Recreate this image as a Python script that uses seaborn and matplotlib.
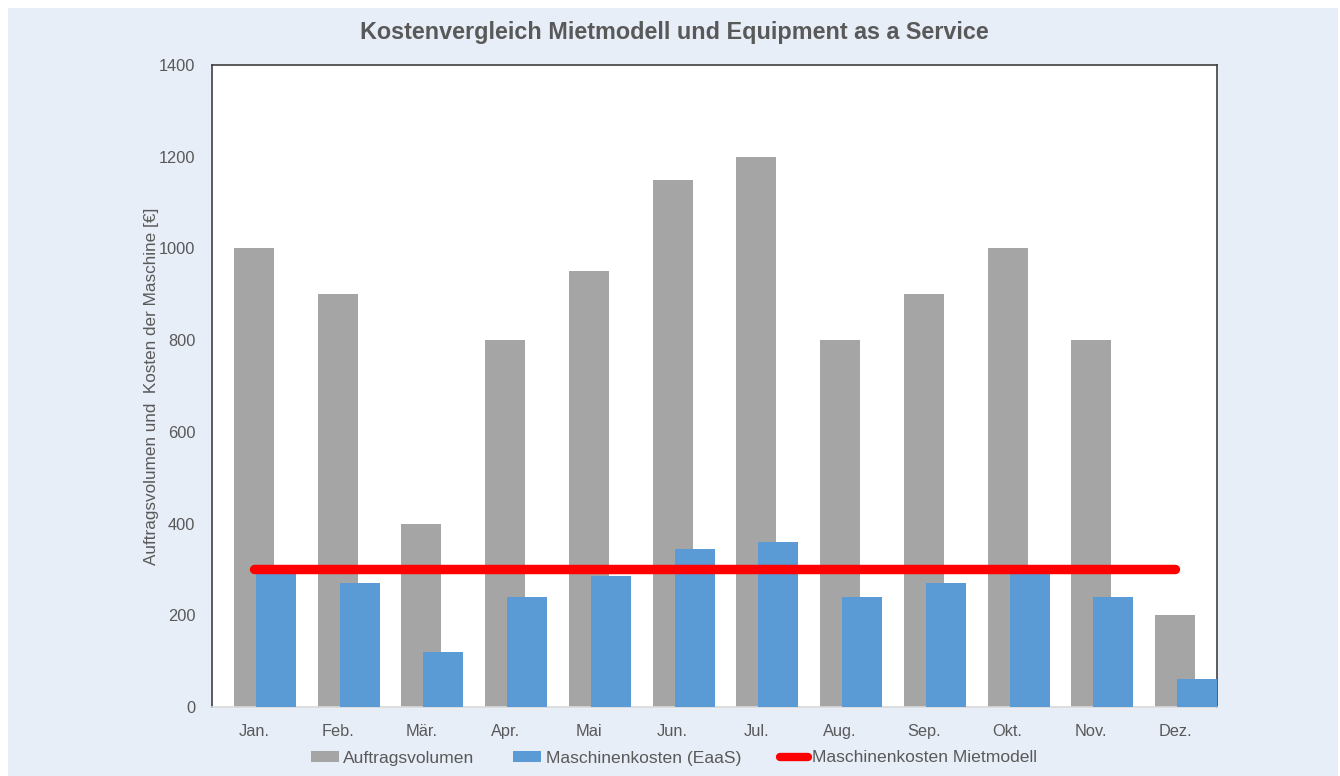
import numpy as np
import pandas as pd
import seaborn as sns
import matplotlib
matplotlib.use('Agg')
import matplotlib.pyplot as plt
from matplotlib.patches import Patch, Rectangle
from matplotlib.lines import Line2D

# data
monate = ["Jan.", "Feb.", "Mär.", "Apr.", "Mai", "Jun.", "Jul.", "Aug.", "Sep.", "Okt.", "Nov.", "Dez."]
auftragsvolumen = [1000, 900, 400, 800, 950, 1150, 1200, 800, 900, 1000, 800, 200]
kosten_eaas = [290, 270, 120, 240, 285, 345, 360, 240, 270, 290, 240, 60]
kosten_miete = [300] * 12

grau = '#a5a5a5'
blau = '#5b9bd5'
rot = '#ff0000'
hellblau = '#e8eef8'
textgrau = '#595959'

sns.set_style('white')
plt.rcParams['font.family'] = ['Liberation Sans', 'DejaVu Sans']

pos = np.arange(len(monate))
df = pd.DataFrame({'pos': pos, 'monat': monate, 'auftrag': auftragsvolumen,
                   'eaas': kosten_eaas, 'miete': kosten_miete})
df['pos_eaas'] = df['pos'] + 0.263

fig = plt.figure(figsize=(13.4, 7.76), dpi=100, facecolor='white')
fig.patches.append(Rectangle((8 / 1340, 0), 1330 / 1340, 1 - 8 / 776, transform=fig.transFigure,
                             facecolor=hellblau, edgecolor='none', zorder=-10))
ax = fig.add_axes([212 / 1340, 1 - 707 / 776, 1005 / 1340, 642 / 776])
ax.set_facecolor('white')

sns.barplot(data=df, x='pos', y='auftrag', native_scale=True, color=grau, width=0.478,
            saturation=1, linewidth=0, ax=ax, zorder=2)
sns.barplot(data=df, x='pos_eaas', y='eaas', native_scale=True, color=blau, width=0.478,
            saturation=1, linewidth=0, ax=ax, zorder=3)
sns.lineplot(data=df, x='pos', y='miete', color=rot, linewidth=6.8, ax=ax, zorder=4,
             solid_capstyle='round')

ax.set_xlim(-0.5, 11.5)
ax.set_ylim(0, 1400)
ax.set_yticks(range(0, 1401, 200))
ax.set_xticks(pos)
ax.set_xticklabels(monate)
ax.tick_params(axis='both', length=0, colors=textgrau, labelsize=11.8)
ax.tick_params(axis='x', pad=12, labelsize=11.8)
ax.tick_params(axis='y', pad=12)
ax.set_xlabel('')
ax.set_ylabel('Auftragsvolumen und  Kosten der Maschine [€]', color=textgrau, fontsize=12.3, labelpad=0)

for s in ['left', 'top', 'right']:
    ax.spines[s].set_visible(True)
    ax.spines[s].set_color('#404040')
    ax.spines[s].set_linewidth(1.2)
ax.spines['bottom'].set_color('#d9d9d9')
ax.spines['bottom'].set_linewidth(1.2)

fig.text(0.503, 1 - 33 / 776, 'Kostenvergleich Mietmodell und Equipment as a Service',
         ha='center', va='center', fontsize=16.8, fontweight='bold', color=textgrau)

handles = [Patch(facecolor=grau, edgecolor='none'),
           Patch(facecolor=blau, edgecolor='none'),
           Line2D([0], [0], color=rot, linewidth=6, solid_capstyle='round')]
labels = ['Auftragsvolumen', 'Maschinenkosten (EaaS)', 'Maschinenkosten Mietmodell']
fig.legend(handles, labels, loc='center', bbox_to_anchor=(0.503, 18 / 776), ncol=3, frameon=False,
           fontsize=12.6, handlelength=1.6, handleheight=0.55, handletextpad=0.25,
           columnspacing=2.2, labelcolor=textgrau)

fig.savefig('out.png', dpi=100, facecolor=fig.get_facecolor())
